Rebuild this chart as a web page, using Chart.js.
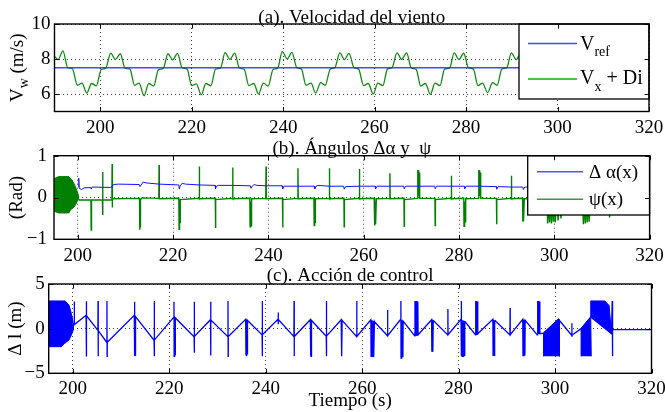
<!DOCTYPE html>
<html>
<head>
<meta charset="utf-8">
<script src="https://cdn.jsdelivr.net/npm/chart.js@4.4.1/dist/chart.umd.min.js"></script>
<style>
  html, body { margin: 0; padding: 0; background: #fff; }
  #wrap { position: relative; width: 665px; height: 412px; }
  canvas { position: absolute; left: 0; top: 0; }
</style>
</head>
<body>
<div id="wrap">
  <canvas id="cA" width="665" height="412"></canvas>
  <canvas id="cB" width="665" height="412"></canvas>
  <canvas id="cC" width="665" height="412"></canvas>
</div>
<script>
// Three stacked MATLAB-style panels: wind speed, angles, control action.
// Values are [time (s), value] pairs.

const xTicks = [200, 220, 240, 260, 280, 300, 320];
const yTicksA = [6, 8, 10];
const yTicksB = [-1, 0, 1];
const yTicksC = [-5, 0, 5];

// (a) wind speed
const vrefPts = [[190, 7.5], [320, 7.5]];
const windPts = [
  [190.0, 8.15], [190.8, 7.97], [191.84, 8.47], [192.9, 7.5], [193.9, 7.45], [195.0, 6.5], [196.0, 6.62], [197.06, 6.05],
  [198.1, 6.6], [199.15, 6.47], [200.2, 7.4], [201.2, 7.47], [202.3, 8.34], [203.3, 7.97], [204.4, 8.3], [205.4, 7.48], [206.5, 7.42], [207.5, 6.5], [208.5, 6.62], [209.58, 5.9],
  [210.6, 6.6], [211.7, 6.45], [212.7, 7.38], [213.8, 7.46], [214.8, 8.3], [215.84, 7.95], [216.9, 8.32], [217.9, 7.5], [219.0, 7.42], [220.0, 6.48], [221.0, 6.58], [222.1, 5.95],
  [223.1, 6.6], [224.2, 6.47], [225.2, 7.42], [226.3, 7.48], [227.3, 8.36], [228.36, 7.98], [229.4, 8.34], [230.4, 7.5], [231.5, 7.4], [232.5, 6.48], [233.6, 6.6], [234.6, 6.0],
  [235.7, 6.62], [236.7, 6.45], [237.8, 7.4], [238.8, 7.47], [239.8, 8.42], [240.88, 8.0], [241.9, 8.38], [243.0, 7.5], [244.0, 7.42], [245.0, 6.5], [246.1, 6.62], [247.1, 6.05],
  [248.2, 6.65], [249.2, 6.5], [250.3, 7.42], [251.3, 7.5], [252.4, 8.35], [253.4, 7.97], [254.4, 8.32], [255.5, 7.5], [256.5, 7.42], [257.6, 6.48], [258.6, 6.6], [259.7, 6.0],
  [260.7, 6.62], [261.8, 6.48], [262.8, 7.42], [263.8, 7.5], [264.9, 8.35], [265.9, 7.98], [267.0, 8.35], [268.0, 7.5], [269.1, 7.4], [270.1, 6.45], [271.1, 6.6], [272.2, 5.98],
  [273.2, 6.62], [274.3, 6.48], [275.3, 7.42], [276.4, 7.48], [277.4, 8.35], [278.44, 7.97], [279.5, 8.33], [280.5, 7.5], [281.6, 7.42], [282.6, 6.48], [283.6, 6.62], [284.7, 6.08],
  [285.8, 6.65], [286.8, 6.5], [287.8, 7.42], [288.9, 7.5], [289.9, 8.35], [290.96, 7.97], [292.0, 8.33], [293.0, 7.5], [294.0, 7.42]
];

// (b) angles
const alphaPts = [
  [200.15, 0.25], [200.2, 0.46], [200.3, 0.22], [200.8, 0.19], [201.3, 0.23], [202.7, 0.24], [202.8, 0.2], [203.0, 0.25],
  [206.8, 0.24], [207.2, 0.26], [207.5, 0.31], [208.5, 0.32], [212.9, 0.31], [213.05, 0.26], [213.3, 0.3], [213.7, 0.37],
  [214.3, 0.35], [217.0, 0.32], [221.2, 0.3], [221.3, 0.2], [221.5, 0.28], [221.9, 0.34], [222.6, 0.32], [225.5, 0.3],
  [228.8, 0.29], [228.9, 0.21], [229.1, 0.27], [229.5, 0.29], [232.5, 0.29], [236.2, 0.28], [236.35, 0.22], [236.6, 0.27],
  [237.0, 0.31], [237.6, 0.29], [239.5, 0.28], [242.9, 0.28], [243.0, 0.21], [243.3, 0.27], [246.2, 0.27], [249.6, 0.27],
  [249.75, 0.21], [250.0, 0.27], [250.4, 0.29], [252.8, 0.27], [255.8, 0.27], [255.9, 0.2], [256.2, 0.26], [259.1, 0.27],
  [262.4, 0.27], [262.5, 0.21], [262.8, 0.27], [265.5, 0.27], [268.4, 0.27], [268.5, 0.21], [268.8, 0.27], [271.5, 0.27],
  [274.9, 0.27], [275.0, 0.21], [275.3, 0.27], [278.4, 0.27], [281.1, 0.27], [281.2, 0.21], [281.5, 0.27], [284.3, 0.27],
  [287.8, 0.26], [287.9, 0.2], [288.2, 0.26], [291.0, 0.25], [293.4, 0.25], [293.5, 0.19], [293.8, 0.25], [320, 0.24]
];
const psiBurstPts = [
  [195.0, 0.45], [196.0, 0.5], [198.1, 0.5], [198.8, 0.42], [199.5, 0.26], [200.1, 0.06],
  [200.1, -0.03], [199.65, -0.15], [199.2, -0.23], [198.45, -0.3], [198.1, -0.37], [196.0, -0.37], [195.0, -0.33]
];
const psiPts = [
  [200.1, -0.02], [200.3, -0.06],
  [202.75, -0.06], [202.8, -0.78], [202.85, -0.08], [202.9, -0.06],
  [205.15, -0.06], [205.2, 0.61], [205.23, -0.42], [205.28, -0.06],
  [207.15, -0.06], [207.2, 0.8], [207.23, -0.24], [207.28, -0.03],
  [212.95, -0.02], [213.0, -0.77], [213.05, -0.1], [213.1, -0.72], [213.15, -0.1], [213.2, -0.05], [213.5, -0.01],
  [217.0, -0.02], [217.05, 0.78], [217.1, -0.03],
  [221.2, -0.02], [221.25, -0.76], [221.3, -0.1], [221.35, -0.72], [221.4, -0.12], [221.45, -0.6], [221.5, -0.05],
  [225.45, -0.02], [225.5, 0.74], [225.55, -0.03],
  [228.85, -0.02], [228.9, -0.73], [228.95, -0.05],
  [232.45, -0.02], [232.5, 0.72], [232.55, -0.03],
  [236.1, -0.02], [236.15, -0.7], [236.2, -0.1], [236.25, -0.7], [236.3, -0.1], [236.35, -0.68], [236.4, -0.1], [236.45, -0.6], [236.55, -0.03],
  [239.45, -0.02], [239.5, 0.74], [239.55, -0.03],
  [242.95, -0.02], [243.0, -0.72], [243.05, -0.05],
  [246.15, -0.02], [246.2, 0.7], [246.25, -0.03],
  [249.55, -0.02], [249.6, -0.67], [249.65, -0.1], [249.7, -0.66], [249.75, -0.1], [249.8, -0.6], [249.85, -0.03],
  [252.75, -0.02], [252.8, 0.7], [252.85, -0.03],
  [255.85, -0.02], [255.9, -0.7], [255.95, -0.05],
  [259.05, -0.02], [259.1, 0.68], [259.15, -0.03],
  [262.2, -0.02], [262.25, -0.67], [262.3, -0.1], [262.35, -0.66], [262.4, -0.1], [262.45, -0.64], [262.5, -0.1], [262.55, -0.62], [262.65, -0.03],
  [265.45, -0.02], [265.5, 0.58], [265.55, -0.03],
  [268.45, -0.02], [268.5, -0.69], [268.55, -0.05],
  [271.3, -0.02], [271.35, 0.66], [271.4, 0.05], [271.45, 0.65], [271.5, 0.05], [271.55, 0.63], [271.6, 0.05], [271.65, 0.6], [271.75, -0.02],
  [274.95, -0.02], [275.0, -0.67], [275.05, -0.05],
  [278.35, -0.02], [278.4, 0.52], [278.45, -0.03],
  [281.0, -0.02], [281.05, -0.69], [281.1, -0.1], [281.15, -0.68], [281.2, -0.1], [281.25, -0.66], [281.3, -0.1], [281.35, -0.6], [281.45, -0.03],
  [284.1, -0.02], [284.15, 0.66], [284.2, 0.05], [284.25, 0.65], [284.3, 0.05], [284.35, 0.64], [284.4, 0.05], [284.45, 0.6], [284.55, -0.02],
  [287.85, -0.02], [287.9, -0.64], [287.95, -0.05],
  [290.95, -0.02], [291.0, 0.52], [291.05, -0.03],
  [293.35, -0.02], [293.4, -0.58], [293.45, -0.1], [293.5, -0.57], [293.55, -0.1], [293.6, -0.55], [293.7, -0.03],
  [298.5, -0.02], [298.6, -0.62], [298.8, -0.05], [299.0, -0.6], [299.2, -0.05], [299.4, -0.62], [299.6, -0.05], [299.8, -0.58],
  [300.0, -0.05], [300.2, -0.6], [300.5, -0.05], [300.8, -0.55], [301.1, -0.05], [301.4, -0.5], [301.6, -0.02],
  [305.9, -0.02], [306.1, -0.64], [306.3, -0.05], [306.5, -0.62], [306.7, -0.05], [306.9, -0.6], [307.1, -0.05], [307.3, -0.58], [307.6, -0.02],
  [311.5, -0.02], [311.6, -0.48], [311.7, -0.02], [320, -0.01]
];

// (c) control action
const ctrlBurstPts = [
  [195.0, 3.1], [198.4, 3.1], [199.2, 2.65], [199.7, 1.7], [200.1, 0.6],
  [200.1, -0.15], [199.7, -0.72], [199.2, -1.27], [198.3, -1.65], [197.6, -2.02], [195.0, -2.02]
];
const ctrlFill1Pts = [[297.6, -3.1], [297.6, -0.5], [300.7, 1.05], [300.9, 1.0], [300.9, -3.1]];
const ctrlFill2Pts = [[305.4, -3.1], [305.4, 0.0], [307.4, 1.3], [307.5, -3.1]];
const ctrlFill3Pts = [[307.4, 1.3], [307.4, 3.1], [310.3, 3.1], [311.2, 2.6], [311.7, -0.55]];
const ctrlPts = [
  [200.1, 0.5], [200.25, 0.45], [200.3, 3.05], [200.35, 0.45],
  [202.75, 1.5], [202.8, 3.08], [202.83, -3.13], [202.86, 1.45],
  [205.2, -0.2], [205.23, 3.1], [205.26, -3.1], [205.29, -0.22],
  [207.05, -1.55], [207.08, 3.1], [207.11, -3.1], [207.14, -1.53],
  [212.75, 1.5], [212.78, 3.0], [212.81, -3.05], [212.86, 1.4], [212.91, -3.0], [212.96, 1.3], [213.01, -2.9], [213.06, 1.35],
  [216.85, -1.3], [216.88, 3.1], [216.91, -3.1], [216.94, -1.28],
  [220.95, 1.3], [220.98, 3.0], [221.01, -3.1], [221.06, 1.2], [221.11, -3.0], [221.16, 1.15], [221.21, -2.9], [221.26, 1.2],
  [225.15, -0.9], [225.18, 3.0], [225.21, -2.7], [225.24, -0.88],
  [228.55, 1.0], [228.58, 3.0], [228.61, -3.0], [228.64, 0.98],
  [232.15, -0.9], [232.18, 3.1], [232.21, -3.1], [232.24, -0.88],
  [235.85, 1.05], [235.9, -3.0], [235.95, 1.0], [236.0, -3.1], [236.05, 0.95], [236.1, -3.0], [236.15, 0.9], [236.2, -2.9], [236.25, 0.92],
  [239.25, -0.7], [239.28, 3.1], [239.31, -3.1], [239.34, -0.68],
  [242.55, 1.05], [242.58, 1.8], [242.61, 0.5], [242.64, 1.02],
  [245.85, -0.9], [245.88, 3.1], [245.91, -3.1], [245.94, -0.88],
  [249.25, 1.0], [249.3, -3.0], [249.35, 0.95], [249.4, -3.1], [249.45, 0.9], [249.5, -2.9], [249.55, 0.92],
  [252.55, -0.85], [252.58, 3.1], [252.61, -3.1], [252.64, -0.83],
  [255.65, 1.0], [255.7, -3.1], [255.75, 0.95], [255.8, -3.0], [255.85, 0.92],
  [258.85, -0.9], [258.88, 3.1], [258.91, -0.88],
  [261.8, 1.0], [261.85, -3.1], [261.95, 0.95], [262.05, -3.1], [262.15, 0.9], [262.25, -3.1], [262.35, 0.85], [262.45, -3.0], [262.55, 0.8], [262.6, 0.75],
  [265.25, -0.8], [265.28, 2.1], [265.31, -0.78],
  [268.0, 1.05], [268.03, 3.1], [268.06, -3.3], [268.15, 0.95], [268.25, -3.3], [268.35, 0.9], [268.45, -3.2], [268.5, 0.85],
  [270.9, -0.8], [270.95, 3.1], [271.05, -0.75], [271.15, 3.1], [271.25, -0.72], [271.35, 3.1], [271.45, -0.7], [271.55, 3.05], [271.6, -0.68],
  [274.4, 1.0], [274.45, -2.6], [274.55, 0.95], [274.65, -2.6], [274.75, 0.9], [274.8, 0.88],
  [277.75, -0.7], [277.78, 2.2], [277.81, -0.68],
  [280.5, 1.05], [280.53, 3.1], [280.56, -3.1], [280.65, 1.0], [280.75, -3.1], [280.85, 0.95], [280.95, -3.1], [281.05, 0.9], [281.15, -3.0], [281.25, 0.85], [281.3, 0.83],
  [283.5, -0.7], [283.55, 3.1], [283.65, -0.65], [283.75, 3.1], [283.85, -0.6], [283.95, 3.05], [284.0, -0.58],
  [287.1, 1.05], [287.15, -3.0], [287.25, 1.0], [287.35, -3.0], [287.45, 0.95], [287.5, 0.93],
  [290.65, -0.7], [290.68, 2.3], [290.71, -0.68],
  [293.3, 1.05], [293.35, -3.1], [293.45, 1.0], [293.55, -3.1], [293.65, 0.95], [293.75, -3.0], [293.8, 0.93],
  [296.3, -0.7], [296.35, 3.1], [296.45, -0.65], [296.55, 3.1], [296.65, -0.6], [296.75, 3.05], [296.85, -0.56],
  [297.6, -0.5], [300.7, 1.05],
  [303.45, -0.75], [303.48, 0.6], [303.51, -0.9], [303.55, -0.72],
  [305.4, 0.0], [307.4, 1.3],
  [311.7, -0.55], [311.85, 3.1], [311.9, -3.1], [311.95, -0.1],
  [320, -0.1]
];

const SERIF = '"Liberation Serif", "Times New Roman", serif';
const GRID = "rgba(0, 0, 0, 0.75)";

function toXY(pts) {
  return pts.map((p) => ({ x: p[0], y: p[1] }));
}

function minusFmt(v) {
  return v < 0 ? "\u2212" + Math.abs(v) : String(v);
}

// drawPieces writes a run of text with optional sub-scripts: [text, size, dy].
function drawPieces(ctx, pieces, x, y) {
  let cx = x;
  pieces.forEach((p) => {
    ctx.font = p[1] + "px " + SERIF;
    ctx.fillText(p[0], cx, y + p[2]);
    cx += ctx.measureText(p[0]).width;
  });
  return cx - x;
}

function piecesWidth(ctx, pieces) {
  let w = 0;
  pieces.forEach((p) => {
    ctx.font = p[1] + "px " + SERIF;
    w += ctx.measureText(p[0]).width;
  });
  return w;
}

const matlabAxes = {
  id: "matlabAxes",
  afterDatasetsDraw(chart, args, opts) {
    const lg = opts.legend;
    if (!lg) return;
    const ctx = chart.ctx;
    ctx.save();
    ctx.fillStyle = "#fff";
    ctx.fillRect(lg.x, lg.y, lg.w, lg.h);
    ctx.strokeStyle = "#000";
    ctx.lineWidth = 1.3;
    ctx.strokeRect(lg.x, lg.y, lg.w, lg.h);
    lg.items.forEach((it) => {
      ctx.strokeStyle = it.color;
      ctx.lineWidth = 1.5;
      ctx.beginPath();
      ctx.moveTo(lg.lineX1, it.y);
      ctx.lineTo(lg.lineX2, it.y);
      ctx.stroke();
      ctx.fillStyle = "#000";
      ctx.textBaseline = "alphabetic";
      ctx.textAlign = "left";
      drawPieces(ctx, it.text, lg.textX, it.base);
    });
    ctx.restore();
  },
  afterDraw(chart, args, opts) {
    const ctx = chart.ctx;
    const a = chart.chartArea;
    const xs = chart.scales.x;
    const ys = chart.scales.y;
    ctx.save();
    ctx.strokeStyle = "#000";
    ctx.lineWidth = 1.4;
    ctx.strokeRect(a.left, a.top, a.right - a.left, a.bottom - a.top);
    ctx.lineWidth = 1;
    ctx.beginPath();
    xs.ticks.forEach((t) => {
      const px = Math.round(xs.getPixelForValue(t.value)) + 0.5;
      ctx.moveTo(px, a.bottom); ctx.lineTo(px, a.bottom - 4.5);
      ctx.moveTo(px, a.top); ctx.lineTo(px, a.top + 4.5);
    });
    ys.ticks.forEach((t) => {
      const py = Math.round(ys.getPixelForValue(t.value)) + 0.5;
      ctx.moveTo(a.left, py); ctx.lineTo(a.left + 4.5, py);
      ctx.moveTo(a.right, py); ctx.lineTo(a.right - 4.5, py);
    });
    ctx.stroke();

    ctx.fillStyle = "#000";
    ctx.textBaseline = "alphabetic";
    ctx.textAlign = "center";
    ctx.font = "19px " + SERIF;
    ctx.fillText(opts.title, (a.left + a.right) / 2, opts.titleY);
    if (opts.xTitle) ctx.fillText(opts.xTitle, (a.left + a.right) / 2, opts.xTitleY);

    // rotated y label
    ctx.textAlign = "left";
    ctx.translate(opts.yLabelX, (a.top + a.bottom) / 2);
    ctx.rotate(-Math.PI / 2);
    const w = piecesWidth(ctx, opts.yLabel);
    drawPieces(ctx, opts.yLabel, -w / 2, 0);
    ctx.restore();
  },
};

function makeChart(id, box, xMin, yMin, yMax, yTicks, pad, datasets, deco) {
  return new Chart(document.getElementById(id), {
    type: "line",
    data: { datasets: datasets },
    options: {
      responsive: false,
      animation: false,
      devicePixelRatio: 1,
      events: [],
      layout: { padding: { left: 0, top: box.top, right: 665 - box.right, bottom: 0 } },
      elements: { point: { radius: 0 } },
      scales: {
        x: {
          type: "linear",
          min: xMin,
          max: 320,
          afterBuildTicks: (s) => { s.ticks = xTicks.map((v) => ({ value: v })); },
          afterFit: (s) => { s.height = 412 - box.bottom; s.paddingLeft = 0; s.paddingRight = 0; },
          grid: { color: GRID, drawTicks: false, lineWidth: 1 },
          border: { display: false, dash: [1, 3] },
          ticks: { color: "#000", font: { size: 19, family: SERIF }, padding: pad.x, maxRotation: 0, autoSkip: false, callback: minusFmt },
        },
        y: {
          type: "linear",
          min: yMin,
          max: yMax,
          afterBuildTicks: (s) => { s.ticks = yTicks.map((v) => ({ value: v })); },
          afterFit: (s) => { s.width = box.left; },
          grid: { color: GRID, drawTicks: false, lineWidth: 1 },
          border: { display: false, dash: [1, 3] },
          ticks: { color: "#000", font: { size: 19, family: SERIF }, padding: pad.y, autoSkip: false, callback: minusFmt },
        },
      },
      plugins: { legend: { display: false }, tooltip: { enabled: false }, matlabAxes: deco },
    },
    plugins: [matlabAxes],
  });
}

function lineSet(pts, color, width, extra) {
  return Object.assign({
    data: toXY(pts), borderColor: color, borderWidth: width,
    pointRadius: 0, tension: 0, fill: false,
  }, extra || {});
}

function shapeSet(pts, color) {
  return {
    data: toXY(pts), borderColor: color, backgroundColor: color, borderWidth: 1,
    pointRadius: 0, tension: 0, fill: "shape",
  };
}

const BLUE = "#0000ff";
const GREEN = "#007f00";

makeChart("cA", { left: 54.5, right: 649, top: 24, bottom: 111.5 }, 190, 5, 10, yTicksA, { x: 5, y: 4 },
  [
    lineSet(vrefPts, "rgba(40, 40, 255, 0.85)", 1.6),
    lineSet(windPts, "#138a13", 1.3, { cubicInterpolationMode: "monotone" }),
  ],
  {
    title: "(a). Velocidad del viento", titleY: 22.5,
    yLabelX: 23, yLabel: [["V", 19, 0], ["w", 14, 5], [" (m/s)", 19, 0]],
    legend: {
      x: 519, y: 24, w: 130, h: 75, lineX1: 528, lineX2: 577, textX: 580,
      items: [
        { color: "#4646ff", y: 43.5, base: 49.5, text: [["V", 20, 0], ["ref", 14, 6]] },
        { color: "#2a9a2a", y: 79, base: 84, text: [["V", 20, 0], ["x", 14, 6.5], [" + Di", 20, 0]] },
      ],
    },
  });

makeChart("cB", { left: 54, right: 649.6, top: 155.7, bottom: 239.3 }, 195, -1, 1, yTicksB, { x: 5, y: 7 },
  [
    shapeSet(psiBurstPts, GREEN),
    lineSet(alphaPts, "#1414ff", 1),
    lineSet(psiPts, GREEN, 1.4),
  ],
  {
    title: "(b). \u00c1ngulos \u0394\u03b1 y  \u03c8", titleY: 153.5,
    yLabelX: 22, yLabel: [["(Rad)", 19, 0]],
    legend: {
      x: 527.7, y: 155.7, w: 121.9, h: 59.3, lineX1: 537, lineX2: 583, textX: 589,
      items: [
        { color: "#5050ff", y: 171.7, base: 178, text: [["\u0394 \u03b1(x)", 19, 0]] },
        { color: "#3a9a3a", y: 199.3, base: 204.5, text: [["\u03c8(x)", 19, 0]] },
      ],
    },
  });

makeChart("cC", { left: 48.7, right: 651.5, top: 284, bottom: 373.3 }, 195, -5, 5, yTicksC, { x: 4, y: 4 },
  [
    shapeSet(ctrlBurstPts, BLUE),
    shapeSet(ctrlFill1Pts, BLUE),
    shapeSet(ctrlFill2Pts, BLUE),
    shapeSet(ctrlFill3Pts, BLUE),
    lineSet(ctrlPts, BLUE, 1.3),
  ],
  {
    title: "(c). Acci\u00f3n de control", titleY: 281,
    xTitle: "Tiempo (s)", xTitleY: 406,
    yLabelX: 21, yLabel: [["\u0394 l (m)", 19, 0]],
  });
</script>
</body>
</html>
